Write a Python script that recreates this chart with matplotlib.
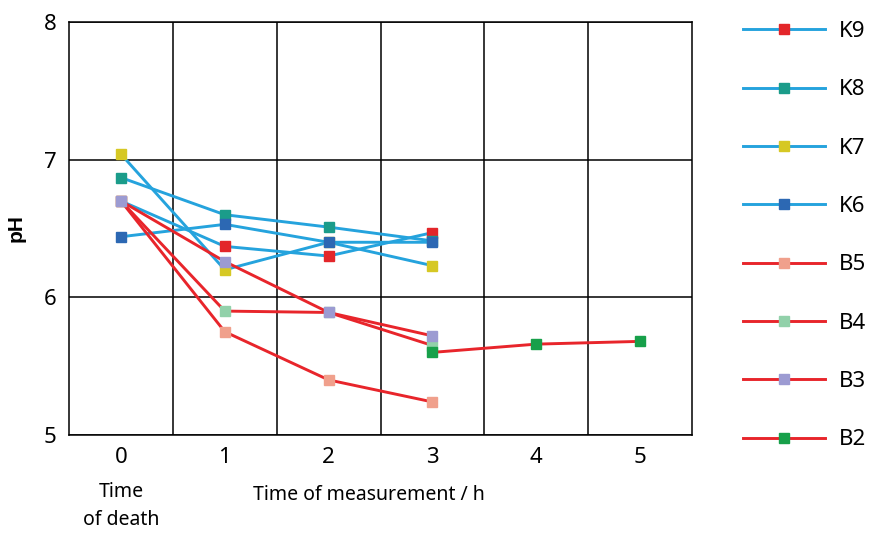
import matplotlib
matplotlib.use("Agg")
import matplotlib.pyplot as plt
from matplotlib.ticker import FixedLocator

plt.rcParams["font.family"] = ["Noto Sans", "DejaVu Sans"]

# measurement times (h)
t_k = [0, 1, 2, 3]
t_b = [0, 1, 2, 3]
t_b2 = [3, 4, 5]

# pH values
k9 = [6.70, 6.37, 6.30, 6.47]
k8 = [6.87, 6.60, 6.51, 6.41]
k7 = [7.04, 6.20, 6.40, 6.23]
k6 = [6.44, 6.53, 6.40, 6.40]
b5 = [6.70, 5.75, 5.40, 5.24]
b4 = [6.70, 5.90, 5.89, 5.65]
b3 = [6.70, 6.26, 5.89, 5.72]
b2 = [5.60, 5.66, 5.68]

x_ticks = [0, 1, 2, 3, 4, 5]
y_ticks = [5, 6, 7, 8]

BLUE = "#25a3dd"
RED = "#e8252b"

series = [
    ("K9", t_k, k9, BLUE, "#e3262a"),
    ("K8", t_k, k8, BLUE, "#1b9c8a"),
    ("K7", t_k, k7, BLUE, "#d6c824"),
    ("K6", t_k, k6, BLUE, "#2c68b3"),
    ("B5", t_b, b5, RED, "#f0a08c"),
    ("B4", t_b, b4, RED, "#92d1aa"),
    ("B3", t_b, b3, RED, "#9c9bd2"),
    ("B2", t_b2, b2, RED, "#17a04a"),
]

fig = plt.figure(figsize=(8.75, 5.33), dpi=100)
ax = fig.add_axes([0.0789, 0.1839, 0.712, 0.7748])

for name, xs, ys, lc, mc in series:
    ax.plot(xs, ys, color=lc, lw=2.1, marker="s", ms=6.5,
            mfc=mc, mec=mc, label=name)

ax.set_xlim(-0.5, 5.5)
ax.set_ylim(5, 8)
ax.set_xticks(x_ticks)
ax.set_yticks(y_ticks)
ax.xaxis.set_minor_locator(FixedLocator([0.5, 1.5, 2.5, 3.5, 4.5]))
ax.grid(False)
ax.grid(which="minor", axis="x", color="black", lw=1.1)
ax.grid(which="major", axis="y", color="black", lw=1.1)
ax.tick_params(which="both", length=0, labelsize=16, pad=9)
for sp in ax.spines.values():
    sp.set_color("black")
    sp.set_linewidth(1.1)

ax.set_ylabel("pH", fontsize=15, fontweight="bold",
              family=["Liberation Sans", "DejaVu Sans"])
ax.yaxis.set_label_coords(-0.07, 0.5)

fig.text(121 / 875, 1 - 482 / 533, "Time\nof death", ha="center", va="top",
         fontsize=14, linespacing=1.55)
fig.text(253 / 875, 1 - 495 / 533, "Time of measurement / h", ha="left",
         va="center", fontsize=14)

ax.legend(loc="upper left", bbox_to_anchor=(743 / 875, 1 - 21 / 533),
          bbox_transform=fig.transFigure, frameon=False, fontsize=16,
          handlelength=3.7, handletextpad=0.6, labelspacing=1.68,
          borderpad=0, borderaxespad=0)

fig.savefig("out.png", dpi=100)
